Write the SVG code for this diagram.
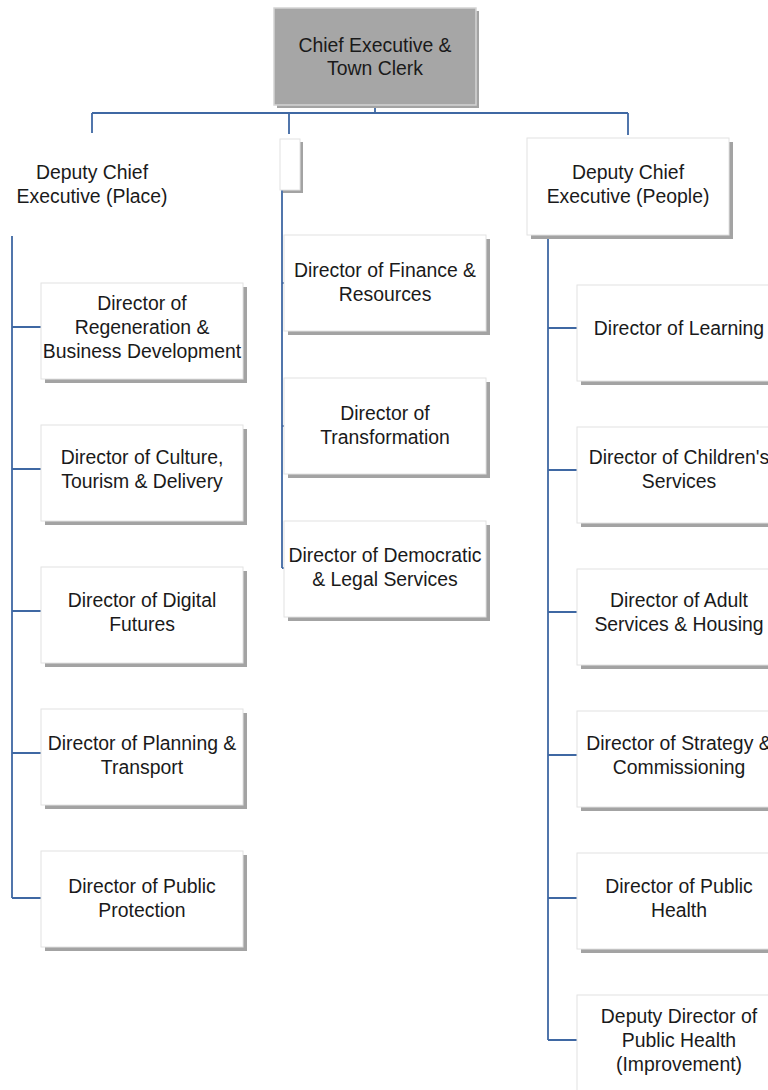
<svg xmlns="http://www.w3.org/2000/svg" width="768" height="1090" viewBox="0 0 768 1090">
<style>
.sh{fill:#a3a3a3}
.bx{fill:#ffffff;stroke:#e2e2e2;stroke-width:1}
.top{fill:#a6a6a6;stroke:#d4d4d4;stroke-width:1.5}
.t{font-family:"Liberation Sans",Arial,sans-serif;font-size:19.4px;fill:#1a1a1a;text-anchor:middle}
.c{stroke:#3f68a3;stroke-width:1.8;fill:none}
</style>
<rect width="768" height="1090" fill="#ffffff"/>
<g id="connectors">
<path class="c" d="M375 106V113M92 113H628M92 113V133M289 113V134M628 113V135"/>
<path class="c" d="M12 236V898M12 327H41M12 469H41M12 611H41M12 753H41M12 898H41"/>
<path class="c" d="M282 190V568M282 283H285M282 426H285M282 568H285"/>
<path class="c" d="M548 235V1040M548 328H577M548 470H577M548 612H577M548 755H577M548 898H577M548 1040H577"/>
</g>
<g id="chief"><rect class="sh" x="277" y="11" width="202" height="97"/><rect class="top" x="274" y="8" width="202" height="97"/><text class="t" x="375" y="52">Chief Executive &amp;</text><text class="t" x="375" y="75">Town Clerk</text></g>
<g id="dce-place"><text class="t" x="92" y="179">Deputy Chief</text><text class="t" x="92" y="203">Executive (Place)</text></g>
<g id="empty"><rect class="sh" x="283" y="142" width="20" height="51"/><rect class="bx" x="280" y="139" width="20" height="51"/></g>
<g id="dce-people"><rect class="sh" x="531" y="142" width="202" height="97"/><rect class="bx" x="527" y="138" width="202" height="97"/><text class="t" x="628" y="179">Deputy Chief</text><text class="t" x="628" y="203">Executive (People)</text></g>
<g id="regen"><rect class="sh" x="45" y="287" width="202" height="96"/><rect class="bx" x="41" y="283" width="202" height="96"/><text class="t" x="142" y="310">Director of</text><text class="t" x="142" y="334">Regeneration &amp;</text><text class="t" x="142" y="358">Business Development</text></g>
<g id="culture"><rect class="sh" x="45" y="429" width="202" height="96"/><rect class="bx" x="41" y="425" width="202" height="96"/><text class="t" x="142" y="464">Director of Culture,</text><text class="t" x="142" y="488">Tourism &amp; Delivery</text></g>
<g id="digital"><rect class="sh" x="45" y="571" width="202" height="96"/><rect class="bx" x="41" y="567" width="202" height="96"/><text class="t" x="142" y="607">Director of Digital</text><text class="t" x="142" y="631">Futures</text></g>
<g id="planning"><rect class="sh" x="45" y="713" width="202" height="96"/><rect class="bx" x="41" y="709" width="202" height="96"/><text class="t" x="142" y="750">Director of Planning &amp;</text><text class="t" x="142" y="774">Transport</text></g>
<g id="protection"><rect class="sh" x="45" y="855" width="202" height="96"/><rect class="bx" x="41" y="851" width="202" height="96"/><text class="t" x="142" y="893">Director of Public</text><text class="t" x="142" y="917">Protection</text></g>
<g id="finance"><rect class="sh" x="288" y="239" width="202" height="96"/><rect class="bx" x="284" y="235" width="202" height="96"/><text class="t" x="385" y="277">Director of Finance &amp;</text><text class="t" x="385" y="301">Resources</text></g>
<g id="transformation"><rect class="sh" x="288" y="382" width="202" height="96"/><rect class="bx" x="284" y="378" width="202" height="96"/><text class="t" x="385" y="420">Director of</text><text class="t" x="385" y="444">Transformation</text></g>
<g id="democratic"><rect class="sh" x="288" y="525" width="202" height="96"/><rect class="bx" x="284" y="521" width="202" height="96"/><text class="t" x="385" y="562">Director of Democratic</text><text class="t" x="385" y="586">&amp; Legal Services</text></g>
<g id="learning"><rect class="sh" x="581" y="289" width="202" height="96"/><rect class="bx" x="577" y="285" width="202" height="96"/><text class="t" x="679" y="335">Director of Learning</text></g>
<g id="children"><rect class="sh" x="581" y="431" width="202" height="96"/><rect class="bx" x="577" y="427" width="202" height="96"/><text class="t" x="679" y="464">Director of Children's</text><text class="t" x="679" y="488">Services</text></g>
<g id="adult"><rect class="sh" x="581" y="573" width="202" height="96"/><rect class="bx" x="577" y="569" width="202" height="96"/><text class="t" x="679" y="607">Director of Adult</text><text class="t" x="679" y="631">Services &amp; Housing</text></g>
<g id="strategy"><rect class="sh" x="581" y="715" width="202" height="96"/><rect class="bx" x="577" y="711" width="202" height="96"/><text class="t" x="679" y="750">Director of Strategy &amp;</text><text class="t" x="679" y="774">Commissioning</text></g>
<g id="public-health"><rect class="sh" x="581" y="857" width="202" height="96"/><rect class="bx" x="577" y="853" width="202" height="96"/><text class="t" x="679" y="893">Director of Public</text><text class="t" x="679" y="917">Health</text></g>
<g id="deputy-ph"><rect class="sh" x="581" y="999" width="202" height="96"/><rect class="bx" x="577" y="995" width="202" height="96"/><text class="t" x="679" y="1023">Deputy Director of</text><text class="t" x="679" y="1047">Public Health</text><text class="t" x="679" y="1071">(Improvement)</text></g>
</svg>
